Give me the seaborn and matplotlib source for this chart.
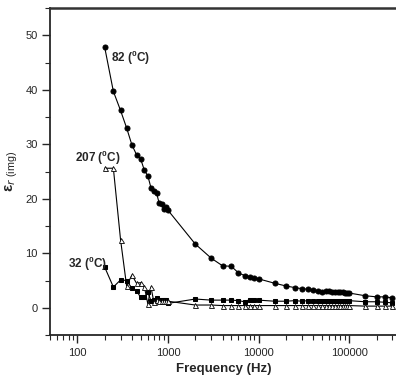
import numpy as np
import pandas as pd
import matplotlib
matplotlib.use("Agg")
import matplotlib.pyplot as plt
import seaborn as sns
from matplotlib.ticker import LogLocator, NullFormatter, MultipleLocator

# === Data ===
freq = [200, 250, 300, 350, 400, 450, 500, 550, 600, 650, 700, 750, 800, 850, 900, 950, 1000,
        2000, 3000, 4000, 5000, 6000, 7000, 8000, 9000, 10000,
        15000, 20000, 25000, 30000, 35000, 40000, 45000, 50000, 55000, 60000, 65000,
        70000, 75000, 80000, 85000, 90000, 95000, 100000,
        150000, 200000, 250000, 300000]

eps_82 = [47.9, 39.7, 36.2, 33.0, 29.9, 28.1, 27.3, 25.2, 24.2, 22.0, 21.5, 21.0, 19.2, 19.0, 18.1, 18.5, 17.9,
          11.7, 9.1, 7.7, 7.6, 6.4, 5.9, 5.7, 5.5, 5.3,
          4.5, 4.0, 3.7, 3.5, 3.4, 3.3, 3.1, 2.8, 3.1, 3.0, 2.9,
          2.9, 2.8, 2.8, 2.8, 2.7, 2.7, 2.7,
          2.2, 2.0, 2.0, 1.8]

eps_32 = [7.5, 3.8, 5.1, 5.0, 3.6, 3.1, 1.9, 1.9, 2.8, 1.3, 1.5, 1.8, 1.5, 1.5, 1.5, 1.5, 0.8,
          1.6, 1.4, 1.4, 1.4, 1.3, 1.1, 1.5, 1.5, 1.4,
          1.2, 1.2, 1.3, 1.2, 1.3, 1.3, 1.3, 1.3, 1.3, 1.3, 1.3,
          1.3, 1.3, 1.3, 1.3, 1.3, 1.3, 1.3,
          1.1, 1.1, 1.0, 0.9]

eps_207 = [25.6, 25.6, 12.5, 4.0, 6.0, 4.5, 4.6, 3.8, 0.7, 3.8, 1.0, 1.4, 1.3, 1.3, 1.3, 1.3, 1.2,
           0.5, 0.5, 0.4, 0.4, 0.4, 0.4, 0.4, 0.4, 0.4,
           0.4, 0.4, 0.4, 0.4, 0.4, 0.4, 0.4, 0.4, 0.4, 0.4, 0.4,
           0.4, 0.4, 0.4, 0.4, 0.4, 0.4, 0.4,
           0.3, 0.3, 0.3, 0.3]

sns.set_style("ticks")
plt.rcParams['font.family'] = ['Liberation Sans', 'DejaVu Sans']
plt.rcParams['mathtext.fontset'] = 'custom'
plt.rcParams['mathtext.rm'] = 'Liberation Sans'
plt.rcParams['mathtext.bf'] = 'Liberation Sans:bold'

fig = plt.figure(figsize=(3.96, 3.83), dpi=100)
ax = fig.add_axes([50 / 396, 48 / 383, 348 / 396, 327 / 383])

# === Series ===
sns.lineplot(x=freq, y=eps_82, ax=ax, color="black", lw=0.8, marker="o",
             markersize=3.6, markeredgecolor="black", markerfacecolor="black")
sns.lineplot(x=freq, y=eps_32, ax=ax, color="black", lw=0.8, marker="s",
             markersize=3.2, markeredgecolor="black", markerfacecolor="black")
sns.lineplot(x=freq, y=eps_207, ax=ax, color="black", lw=0.8, marker="^",
             markersize=3.6, markeredgecolor="black", markerfacecolor="white",
             markeredgewidth=0.6)

ax.set_xscale("log")
ax.set_xlim(50, 345000)
ax.set_ylim(-5, 55)

# === Axes styling ===
ax.spines["right"].set_visible(False)
ax.spines["top"].set_linewidth(1.8)
ax.spines["top"].set_color("#333333")
ax.spines["left"].set_linewidth(1.3)
ax.spines["bottom"].set_linewidth(1.3)

ax.xaxis.set_minor_locator(LogLocator(base=10, subs=np.arange(2, 10), numticks=20))
ax.xaxis.set_minor_formatter(NullFormatter())
ax.set_xticks([100, 1000, 10000, 100000])
ax.set_xticklabels(["100", "1000", "10000", "100000"])
ax.yaxis.set_minor_locator(MultipleLocator(5))
ax.set_yticks([0, 10, 20, 30, 40, 50])

ax.tick_params(axis="both", which="major", direction="out", length=6, width=1.0,
               labelsize=8, pad=3)
ax.tick_params(axis="both", which="minor", direction="out", length=3.5, width=0.8)
ax.tick_params(top=False, right=False, which="both")

ax.set_xlabel("Frequency (Hz)", fontsize=9.5, fontweight="bold", labelpad=4)
ax.set_ylabel(r"$\mathbf{\varepsilon}_{r\ \mathrm{(img)}}$", fontsize=11, labelpad=4)

# === Annotations ===
ax.text(233, 45.8, r"82 ($\mathbf{^0}$C)", fontsize=8.5, fontweight="bold", ha="left", va="center")
ax.text(300, 27.5, r"207 ($\mathbf{^0}$C)", fontsize=8.5, fontweight="bold", ha="right", va="center")
ax.text(215, 8.1, r"32 ($\mathbf{^0}$C)", fontsize=8.5, fontweight="bold", ha="right", va="center")

plt.savefig("out.png", dpi=100)
